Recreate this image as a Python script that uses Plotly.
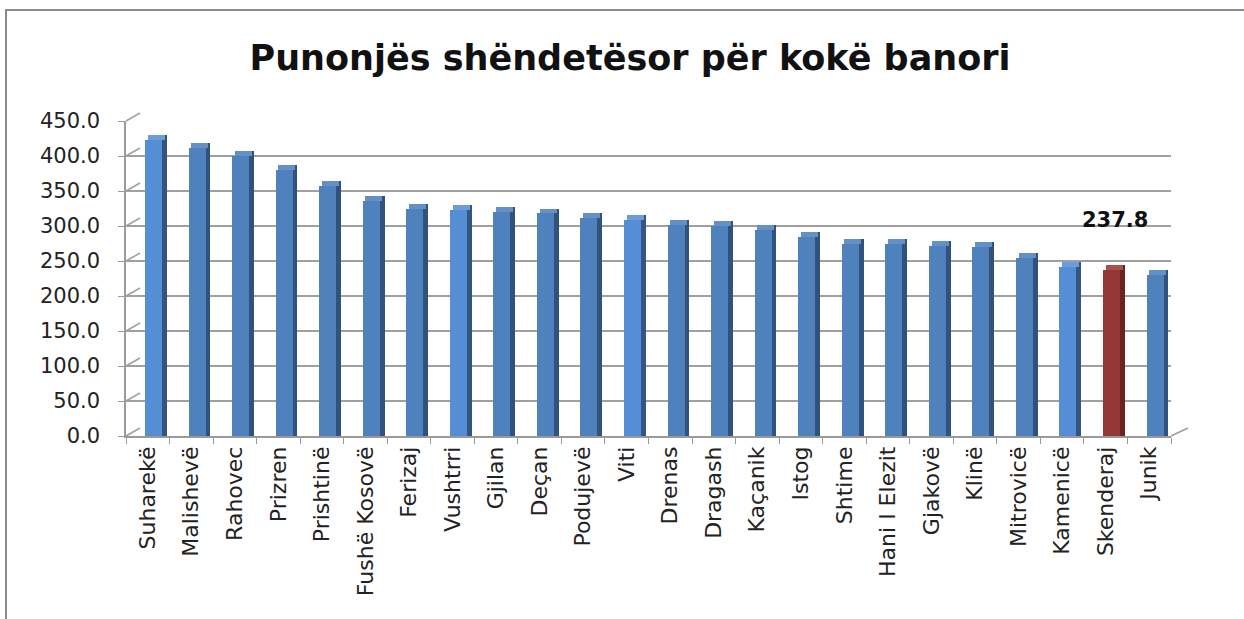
import plotly.graph_objects as go

# data
municipalities = ["Suharekë", "Malishevë", "Rahovec", "Prizren", "Prishtinë", "Fushë Kosovë",
                  "Ferizaj", "Vushtrri", "Gjilan", "Deçan", "Podujevë", "Viti", "Drenas",
                  "Dragash", "Kaçanik", "Istog", "Shtime", "Hani I Elezit", "Gjakovë", "Klinë",
                  "Mitrovicë", "Kamenicë", "Skenderaj", "Junik"]
workers_per_capita = [423.5, 411.0, 400.0, 380.5, 357.0, 336.0,
                      324.0, 323.5, 320.5, 318.0, 311.0, 308.5, 301.0,
                      300.5, 294.0, 285.0, 275.0, 274.0, 272.0, 269.5,
                      255.0, 242.0, 237.8, 230.0]
y_ticks = [0, 50, 100, 150, 200, 250, 300, 350, 400, 450]

highlight = "Skenderaj"
lighter = {"Suharekë", "Vushtrri", "Viti", "Kamenicë"}

front_cols, side_cols, top_cols = [], [], []
for m in municipalities:
    if m == highlight:
        front_cols.append("#953735"); side_cols.append("#6a2523"); top_cols.append("#a8504d")
    elif m in lighter:
        front_cols.append("#558ed5"); side_cols.append("#34557f"); top_cols.append("#6a9ddb")
    else:
        front_cols.append("#4f81bd"); side_cols.append("#31527c"); top_cols.append("#6590c6")

cap = 7  # depth of the top face, in value units

fig = go.Figure()

# back wall gridlines (shifted axes to fake the 3D depth)
fig.add_trace(go.Scatter(x=[0, 1], y=[0, 0], xaxis="x2", yaxis="y2", mode="markers",
                         marker=dict(opacity=0), hoverinfo="skip", showlegend=False))

# side face
fig.add_trace(go.Bar(x=municipalities, y=[v + cap for v in workers_per_capita],
                     marker=dict(color=side_cols, line=dict(width=0)),
                     width=0.11, offset=0.328, hoverinfo="skip", showlegend=False))
# top face
fig.add_trace(go.Bar(x=municipalities, y=[cap] * len(municipalities), base=workers_per_capita,
                     marker=dict(color=top_cols, line=dict(width=0)),
                     width=0.39, offset=0.0, hoverinfo="skip", showlegend=False))
# front face
fig.add_trace(go.Bar(x=municipalities, y=workers_per_capita,
                     marker=dict(color=front_cols, line=dict(width=0)),
                     width=0.39, offset=-0.062, showlegend=False,
                     hovertemplate="%{x}: %{y:.1f}<extra></extra>"))

L, R, T, B = 126, 56, 113, 183
W = 1244 - L - R
H = 619 - T - B

shapes = []
# outer frame (left and top edges visible)
shapes.append(dict(type="rect", xref="paper", yref="paper",
                   x0=(6 - L) / W, x1=(1300 - L) / W, y0=(619 - B - 700) / H, y1=(619 - B - 10) / H,
                   line=dict(color="#8c8c8c", width=2), layer="below"))
# diagonal connectors from front axis ticks to back wall
for t in y_ticks:
    shapes.append(dict(type="line", xref="paper", yref="paper",
                       x0=0, x1=14 / W,
                       y0=(t * 0.7) / H, y1=(t * 0.7 + 8) / H,
                       line=dict(color="#a0a0a0", width=1.5)))
# floor right edge
shapes.append(dict(type="line", xref="paper", yref="paper",
                   x0=(1171 - L) / W, x1=1, y0=0, y1=8 / H,
                   line=dict(color="#a0a0a0", width=1.5)))

fig.update_layout(
    width=1244, height=619,
    margin=dict(l=L, r=R, t=T, b=B),
    paper_bgcolor="white", plot_bgcolor="rgba(0,0,0,0)",
    barmode="overlay", bargap=0,
    font=dict(family="DejaVu Sans", color="#222222"),
    title=dict(text="<b>Punonjës shëndetësor për kokë banori</b>",
               x=630 / 1244, xanchor="center", y=1 - 58 / 619, yanchor="middle",
               font=dict(family="DejaVu Sans", size=35, color="#111111")),
    xaxis=dict(domain=[0, (1171 - L) / W], type="category", range=[-0.5, 23.5],
               showline=True, linecolor="#9a9a9a", linewidth=1.5,
               ticks="outside", tickson="boundaries", ticklen=6, tickcolor="#9a9a9a",
               tickangle=-90, tickfont=dict(size=22, color="#222222"), showgrid=False),
    yaxis=dict(domain=[0, 315 / H], range=[0, 450], tickvals=y_ticks,
               tickformat=".1f", showline=True, linecolor="#9a9a9a", linewidth=1.5,
               ticks="outside", ticklen=6, tickcolor="#9a9a9a", showgrid=False,
               ticklabelstandoff=14,
               zeroline=False, tickfont=dict(size=21, color="#222222")),
    xaxis2=dict(domain=[14 / W, 1], range=[0, 1], anchor="y2", overlaying="x",
                visible=True, showticklabels=False, showgrid=False, zeroline=False,
                showline=False, ticks=""),
    yaxis2=dict(domain=[8 / H, 1], range=[0, 450], anchor="x2", overlaying="y",
                tickvals=y_ticks, showticklabels=False, showgrid=True,
                gridcolor="#a0a0a0", gridwidth=2, zeroline=False, showline=False, ticks=""),
    shapes=shapes,
    annotations=[dict(x=highlight, y=workers_per_capita[municipalities.index(highlight)],
                      xref="x", yref="y", text="<b>%.1f</b>" % workers_per_capita[municipalities.index(highlight)],
                      showarrow=False, yanchor="bottom", yshift=36, xshift=9,
                      font=dict(size=21, color="#111111"))],
)

fig.write_html("out.html", config={"displayModeBar": False},
               post_script="document.body.style.margin='0';")
